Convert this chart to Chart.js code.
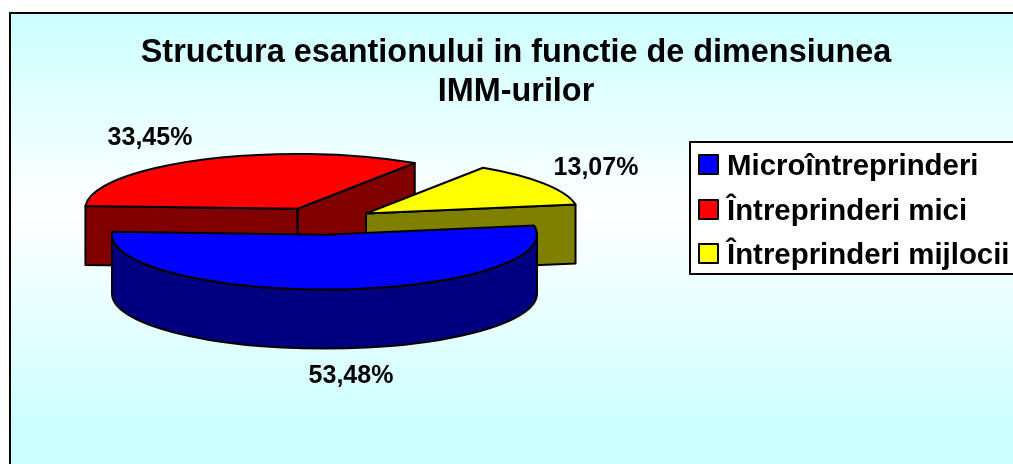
<!DOCTYPE html>
<html>
<head>
<meta charset="utf-8">
<title>Structura esantionului</title>
<script src="https://cdn.jsdelivr.net/npm/chart.js@4/dist/chart.umd.min.js"></script>
<style>
html, body { margin: 0; padding: 0; background: #fff; overflow: hidden; }
canvas { display: block; }
</style>
</head>
<body>
<canvas id="pie" width="1032" height="464"></canvas>
<script>
// Date
var categories = ['Microîntreprinderi', 'Întreprinderi mici', 'Întreprinderi mijlocii'];
var shares = [53.48, 33.45, 13.07];
var topColors = ['#0000FF', '#FF0000', '#FFFF00'];
var sideColors = ['#000080', '#800000', '#808000'];
var titleLines = ['Structura esantionului in functie de dimensiunea', 'IMM-urilor'];

// Aspectul placintei 3D
var pieX = 321.5, pieY = 221, pieRadius = 212.5;
var squash = 0.258, depth = 59, explode = 53;
var fontName = '"Liberation Sans", Arial, sans-serif';
var labelSpots = [[351, 376], [150, 138.5], [596, 168.5]];

function percentText(v) {
    return v.toFixed(2).replace('.', ',') + '%';
}

// Fundal cu gradient si chenar
var framePlugin = {
    id: 'frame',
    beforeDraw: function (chart) {
        var ctx = chart.ctx;
        var grad = ctx.createLinearGradient(0, 13, 0, 430);
        grad.addColorStop(0, '#CCFFFF');
        grad.addColorStop(0.48, '#FFFFFF');
        grad.addColorStop(1, '#CCFFFF');
        ctx.save();
        ctx.fillStyle = '#FFFFFF';
        ctx.fillRect(0, 0, chart.width, chart.height);
        ctx.fillStyle = grad;
        ctx.strokeStyle = '#000';
        ctx.lineWidth = 2;
        ctx.fillRect(10, 13, 1012, 470);
        ctx.strokeRect(10, 13, 1012, 470);
        ctx.restore();
    }
};

function strokeStyleFor(ctx) {
    ctx.strokeStyle = '#000';
    ctx.lineWidth = 2;
    ctx.lineJoin = 'round';
}

// Peretii unei felii: fetele radiale vizibile si marginea din fata
function drawWalls(ctx, cx, cy, arc, color) {
    var a0 = arc.startAngle, a1 = arc.endAngle;
    var r = arc.outerRadius, ry = r * squash;
    strokeStyleFor(ctx);
    ctx.fillStyle = color;

    [[a0, Math.cos(a0) < 0], [a1, Math.cos(a1) > 0]].forEach(function (face) {
        if (!face[1]) return;
        var ex = cx + r * Math.cos(face[0]), ey = cy + ry * Math.sin(face[0]);
        ctx.beginPath();
        ctx.moveTo(cx, cy);
        ctx.lineTo(ex, ey);
        ctx.lineTo(ex, ey + depth);
        ctx.lineTo(cx, cy + depth);
        ctx.closePath();
        ctx.fill();
        ctx.stroke();
    });

    var from = Math.max(a0, 0), to = Math.min(a1, Math.PI);
    if (to > from) {
        ctx.beginPath();
        ctx.ellipse(cx, cy, r, ry, 0, from, to);
        ctx.ellipse(cx, cy + depth, r, ry, 0, to, from, true);
        ctx.closePath();
        ctx.fill();
        ctx.stroke();
    }
}

// Deseneaza feliile din spate spre fata, comprimate pe verticala
var pie3dPlugin = {
    id: 'pie3d',
    beforeDatasetsDraw: function (chart) {
        var ctx = chart.ctx;
        var arcs = chart.getDatasetMeta(0).data.map(function (arc, i) {
            return { arc: arc, index: i, mid: (arc.startAngle + arc.endAngle) / 2 };
        });
        arcs.sort(function (a, b) { return Math.sin(a.mid) - Math.sin(b.mid); });

        arcs.forEach(function (item) {
            var arc = item.arc;
            var cx = pieX + explode * Math.cos(item.mid);
            var cy = pieY + explode * squash * Math.sin(item.mid);

            drawWalls(ctx, cx, cy, arc, sideColors[item.index]);

            ctx.save();
            ctx.translate(cx, cy);
            ctx.scale(1, squash);
            ctx.translate(-arc.x, -arc.y);
            arc.draw(ctx);
            ctx.restore();

            // conturul fetei de sus, cu grosime uniforma
            strokeStyleFor(ctx);
            ctx.beginPath();
            ctx.moveTo(cx, cy);
            ctx.ellipse(cx, cy, arc.outerRadius, arc.outerRadius * squash, 0, arc.startAngle, arc.endAngle);
            ctx.closePath();
            ctx.stroke();
        });
        return false;
    },
    afterDraw: function (chart) {
        var ctx = chart.ctx;
        ctx.save();
        ctx.fillStyle = '#000';
        ctx.textAlign = 'center';
        ctx.textBaseline = 'middle';
        ctx.font = 'bold 25px ' + fontName;
        shares.forEach(function (v, i) {
            ctx.fillText(percentText(v), labelSpots[i][0], labelSpots[i][1]);
        });

        // Legenda
        ctx.fillStyle = '#FFFFFF';
        ctx.strokeStyle = '#000';
        ctx.lineWidth = 2;
        ctx.fillRect(690, 142, 340, 132);
        ctx.strokeRect(690, 142, 340, 132);
        ctx.textAlign = 'left';
        ctx.font = 'bold 29.4px ' + fontName;
        categories.forEach(function (name, i) {
            var y = 165 + i * 44.5;
            var boxY = Math.round(y - 10);
            ctx.fillStyle = topColors[i];
            ctx.fillRect(699, boxY, 19, 19);
            ctx.strokeRect(699, boxY, 19, 19);
            ctx.fillStyle = '#000';
            ctx.fillText(name, 727, y + 2);
        });
        ctx.restore();
    }
};

var chart = new Chart(document.getElementById('pie').getContext('2d'), {
    type: 'pie',
    data: {
        labels: categories,
        datasets: [{
            data: shares,
            backgroundColor: topColors,
            borderWidth: 0,
            radius: pieRadius,
            rotation: 80.5
        }]
    },
    options: {
        responsive: false,
        animation: false,
        plugins: {
            legend: { display: false },
            tooltip: { enabled: false },
            title: {
                display: true,
                text: titleLines,
                color: '#000',
                font: { family: fontName, size: 32.4, weight: 'bold', lineHeight: 1.2 },
                padding: { top: 34, bottom: 10 }
            }
        }
    },
    plugins: [framePlugin, pie3dPlugin]
});
</script>
</body>
</html>
